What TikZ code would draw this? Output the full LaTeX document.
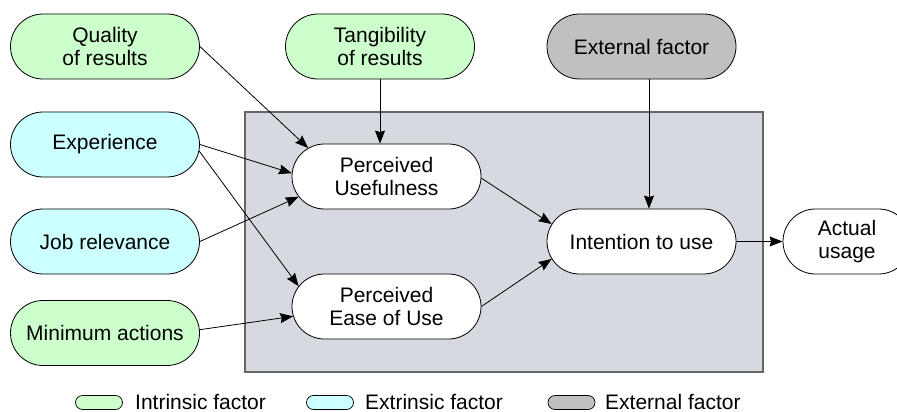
\documentclass[tikz,border=0pt]{standalone}
\usepackage{fontspec}
\setmainfont{Liberation Sans}
\usetikzlibrary{shapes.misc,arrows.meta,calc}
\definecolor{intr}{RGB}{204,255,204}
\definecolor{extr}{RGB}{204,255,255}
\definecolor{extn}{RGB}{192,192,192}
\definecolor{boxfill}{RGB}{214,217,224}
\definecolor{boxline}{RGB}{102,102,102}
\begin{document}
\begin{tikzpicture}[x=1pt,y=1pt,
  factor/.style={rounded rectangle, draw=black, line width=0.8pt,
    minimum width=189pt, minimum height=65pt, inner sep=0pt, align=center,
    font=\fontsize{21}{23}\selectfont},
  intrinsic/.style={factor, fill=intr},
  extrinsic/.style={factor, fill=extr},
  externalf/.style={factor, fill=extn},
  inner/.style={factor, fill=white},
  conn/.style={line width=0.8pt, -{Stealth[length=13pt,width=10pt,inset=1.5pt]}},
  legshape/.style={rounded rectangle, draw=black, line width=0.7pt,
    minimum width=47pt, minimum height=14pt, inner sep=0pt},
  legtext/.style={anchor=west, inner sep=0pt, font=\fontsize{21}{23}\selectfont}]
\useasboundingbox (0,0) rectangle (897,-412);
\clip (0,0) rectangle (897,-412);
% system box
\filldraw[fill=boxfill, draw=boxline, line width=1.5pt] (245,-112) rectangle (763,-372);
% factor nodes
\node[intrinsic] (qual) at (105,-46.5) {Quality\\of results};
\node[intrinsic] (tang) at (380,-46.5) {Tangibility\\of results};
\node[externalf] (ext) at (641.5,-46.5) {External factor};
\node[extrinsic] (exp) at (105,-144.5) {Experience};
\node[extrinsic] (job) at (105,-241.5) {Job relevance};
\node[intrinsic] (mina) at (105,-333) {Minimum actions};
% model nodes
\node[inner] (pu) at (386.5,-176.5) {Perceived\\Usefulness};
\node[inner] (peu) at (386.5,-306.5) {Perceived\\Ease of Use};
\node[inner] (int) at (641.5,-241.5) {Intention to use};
\node[inner, minimum width=128pt] (act) at (847,-241.5) {Actual\\usage};
% connectors
\draw[conn] (qual.east) -- (pu.160);
\draw[conn] (tang.south) -- (tang.south |- pu.north);
\draw[conn] (exp.east) -- (pu.178);
\draw[conn] (exp.-4.5) -- (peu.167);
\draw[conn] (job.east) -- (pu.193);
\draw[conn] (mina.2.5) -- (peu.186);
\draw[conn] (pu.-1) -- (int.169);
\draw[conn] (peu.east) -- (int.191);
\coordinate (extout) at ($(ext.south)+(7.5,0)$);
\draw[conn] (extout) -- (extout |- int.north);
\draw[conn] (int.east) -- (act.west);
% legend
\node[legshape, fill=intr] (l1) at (99,-402.5) {};
\node[legtext] (t1) at (135,-401.5) {Intrinsic factor};
\node[legshape, fill=extr] (l2) at (330,-402.5) {};
\node[legtext] (t2) at (365,-401.5) {Extrinsic factor};
\node[legshape, fill=extn] (l3) at (571.5,-402.5) {};
\node[legtext] (t3) at (605,-401.5) {External factor};
\end{tikzpicture}
\end{document}
